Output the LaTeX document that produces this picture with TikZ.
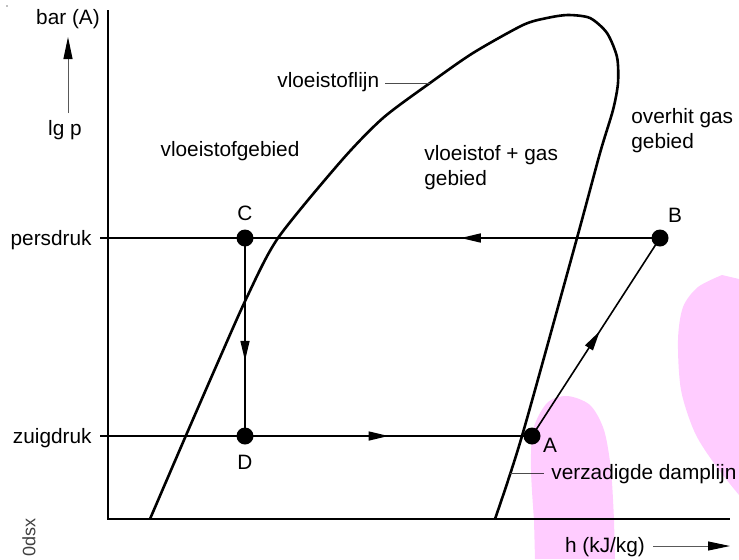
\documentclass[tikz,border=0pt]{standalone}
\usepackage{fontspec}
\setmainfont{Liberation Sans}
\usepackage{tikz}
\usetikzlibrary{arrows.meta, decorations.markings, calc}

\begin{document}
\begin{tikzpicture}[x=0.5pt, y=-0.5pt,
  every node/.style={font=\fontsize{10.4}{12.5}\selectfont, inner sep=0pt},
  proc/.style={line width=0.8pt},
  midarrow/.style={postaction={decorate}, decoration={markings,
    mark=at position #1 with {\arrow{Triangle[length=10pt, width=4.5pt]}}}},
  axisarrow/.style={gray!70!black, line width=0.5pt, -{Triangle[length=11pt, width=4.5pt, black]}},
  leader/.style={gray!60!black, line width=0.5pt}]
  \useasboundingbox (0,0) rectangle (739,559);
  \fill[gray] (7,6) circle (0.8);
  % axes
  \draw[line width=1.25pt] (108,10) -- (108,519) -- (730,519);
  \node (bar) at (68,19) {bar (A)};
  \node (lgp) at (65,130) {lg p};
  \draw[axisarrow] (68,113) -- (68,37);
  \node (hkj) at (605,547) {h (kJ/kg)};
  \draw[axisarrow] (653,546) -- (730,546);
  \node[rotate=90, font=\fontsize{9}{11}\selectfont, text=gray!50!black] (code) at (29,537) {0dsx};
  % saturation dome
  \draw[line width=1.3pt, line join=round] plot[smooth, tension=0.45] coordinates {
    (150,519) (184,440) (218,362) (247,297) (278,238) (342,160) (383,118)
    (430,83) (473,53) (523,25) (547,18) (568,15) (590,18) (607,33)
    (617,57) (618,83) (613,110) (600,153) (577,238) (522,436) (495,519)};
  % cycle points
  \coordinate (A) at (532,436);
  \coordinate (B) at (660,238);
  \coordinate (C) at (245,238);
  \coordinate (D) at (245,436);
  \coordinate (pd) at (100,238);
  \coordinate (zd) at (100,436);
  \node[anchor=east] (persdruk) at (92,240) {persdruk};
  \node[anchor=east] (zuigdruk) at (92,438) {zuigdruk};
  \draw[line width=0.6pt] (pd) -- (C);
  \draw[line width=0.6pt] (zd) -- (D);
  \draw[proc, midarrow=0.48] (B) -- (C);
  \draw[proc, midarrow=0.62] (C) -- (D);
  \draw[proc, midarrow=0.5] (D) -- (A);
  \draw[proc, midarrow=0.53] (A) -- (B);
  \foreach \p in {A,B,C,D} \fill (\p) circle (8.5);
  \node (labA) at (550,445) {A};
  \node (labB) at (675,215) {B};
  \node (labC) at (245,213) {C};
  \node (labD) at (245,462) {D};
  % region labels
  \node (liq) at (230,151) {vloeistofgebied};
  \node[anchor=west, align=left] (wet) at (424,168) {vloeistof + gas\\gebied};
  \node[anchor=west, align=left] (gas) at (631,131) {overhit gas\\gebied};
  \node[anchor=west] (liqline) at (277,82) {vloeistoflijn};
  \draw[leader] (385,83) -- (430,83);
  \node[anchor=west] (vapline) at (551,474) {verzadigde damplijn};
  \draw[leader] (510,473) -- (544,473);
  % pink marks
  \begin{scope}[blend mode=multiply]
    \fill[fill={rgb,255:red,255;green,204;blue,255}] (535,559) -- plot[smooth] coordinates {
      (534,520) (531,470) (533,430) (547,403) (567,396) (590,405) (604,430)
      (611,470) (614,520)} -- (615,559) -- cycle;
    \fill[fill={rgb,255:red,255;green,204;blue,255}] (739,279) -- plot[smooth] coordinates {
      (722,275) (698,287) (683,307) (678,340) (681,390) (695,433) (716,466)
      (739,495)} -- cycle;
  \end{scope}
\end{tikzpicture}
\end{document}
